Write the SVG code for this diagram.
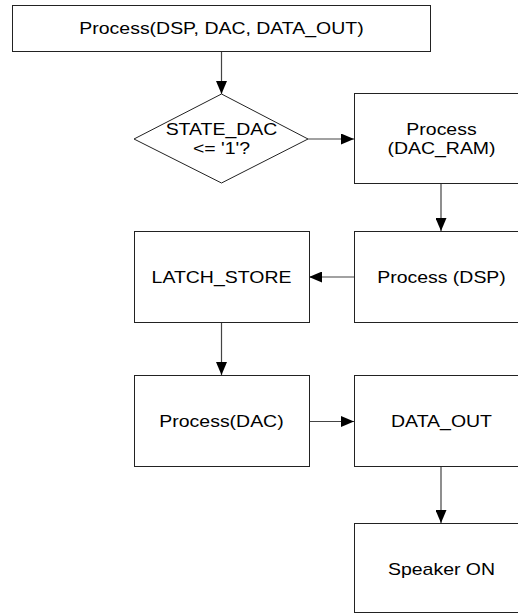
<svg xmlns="http://www.w3.org/2000/svg" width="518" height="614" viewBox="0 0 518 614">
<defs>
<marker id="ah" markerWidth="13" markerHeight="11" refX="13" refY="5.5" orient="auto" markerUnits="userSpaceOnUse">
<path d="M0,0 L13,5.5 L0,11 Z" fill="#000"/>
</marker>
<style>
.box{fill:#fff;stroke:#222;stroke-width:1}
.t{font-family:"Liberation Sans",Arial,sans-serif;font-size:17px;fill:#000;text-anchor:middle}
.c{stroke:#444;stroke-width:1.2;fill:none;marker-end:url(#ah)}
</style>
</defs>
<rect width="518" height="614" fill="#fff"/>
<g id="connectors">
<line class="c" x1="221.5" y1="51" x2="221.5" y2="94"/>
<line class="c" x1="308" y1="139" x2="354" y2="139"/>
<line class="c" x1="441" y1="183" x2="441" y2="231"/>
<line class="c" x1="354" y1="277" x2="309" y2="277"/>
<line class="c" x1="221.5" y1="322" x2="221.5" y2="375"/>
<line class="c" x1="309" y1="421.5" x2="354" y2="421.5"/>
<line class="c" x1="441" y1="466" x2="441" y2="523"/>
</g>
<g id="n-top">
<rect class="box" x="12.5" y="5.5" width="418" height="46"/>
<text class="t" transform="translate(221.5 34) scale(1.145 1)">Process(DSP, DAC, DATA_OUT)</text>
</g>
<g id="n-decision">
<polygon class="box" points="221.5,94 308,139 221.5,183 134,139"/>
<text class="t" transform="translate(221.5 135) scale(1.145 1)">STATE_DAC</text>
<text class="t" transform="translate(221.5 154) scale(1.145 1)">&lt;= '1'?</text>
</g>
<g id="n-dacram">
<rect class="box" x="354.5" y="93.5" width="176" height="90"/>
<text class="t" transform="translate(441.5 135) scale(1.145 1)">Process</text>
<text class="t" transform="translate(441.5 154) scale(1.145 1)">(DAC_RAM)</text>
</g>
<g id="n-dsp">
<rect class="box" x="354.5" y="231.5" width="176" height="91"/>
<text class="t" transform="translate(441.5 283) scale(1.145 1)">Process (DSP)</text>
</g>
<g id="n-latch">
<rect class="box" x="134.5" y="231.5" width="175" height="91"/>
<text class="t" transform="translate(221.5 283) scale(1.145 1)">LATCH_STORE</text>
</g>
<g id="n-dac">
<rect class="box" x="134.5" y="375.5" width="175" height="91"/>
<text class="t" transform="translate(221.5 427) scale(1.145 1)">Process(DAC)</text>
</g>
<g id="n-dataout">
<rect class="box" x="354.5" y="375.5" width="176" height="91"/>
<text class="t" transform="translate(441.5 427) scale(1.145 1)">DATA_OUT</text>
</g>
<g id="n-speaker">
<rect class="box" x="354.5" y="523.5" width="176" height="89"/>
<text class="t" transform="translate(441.5 575) scale(1.145 1)">Speaker ON</text>
</g>
</svg>
